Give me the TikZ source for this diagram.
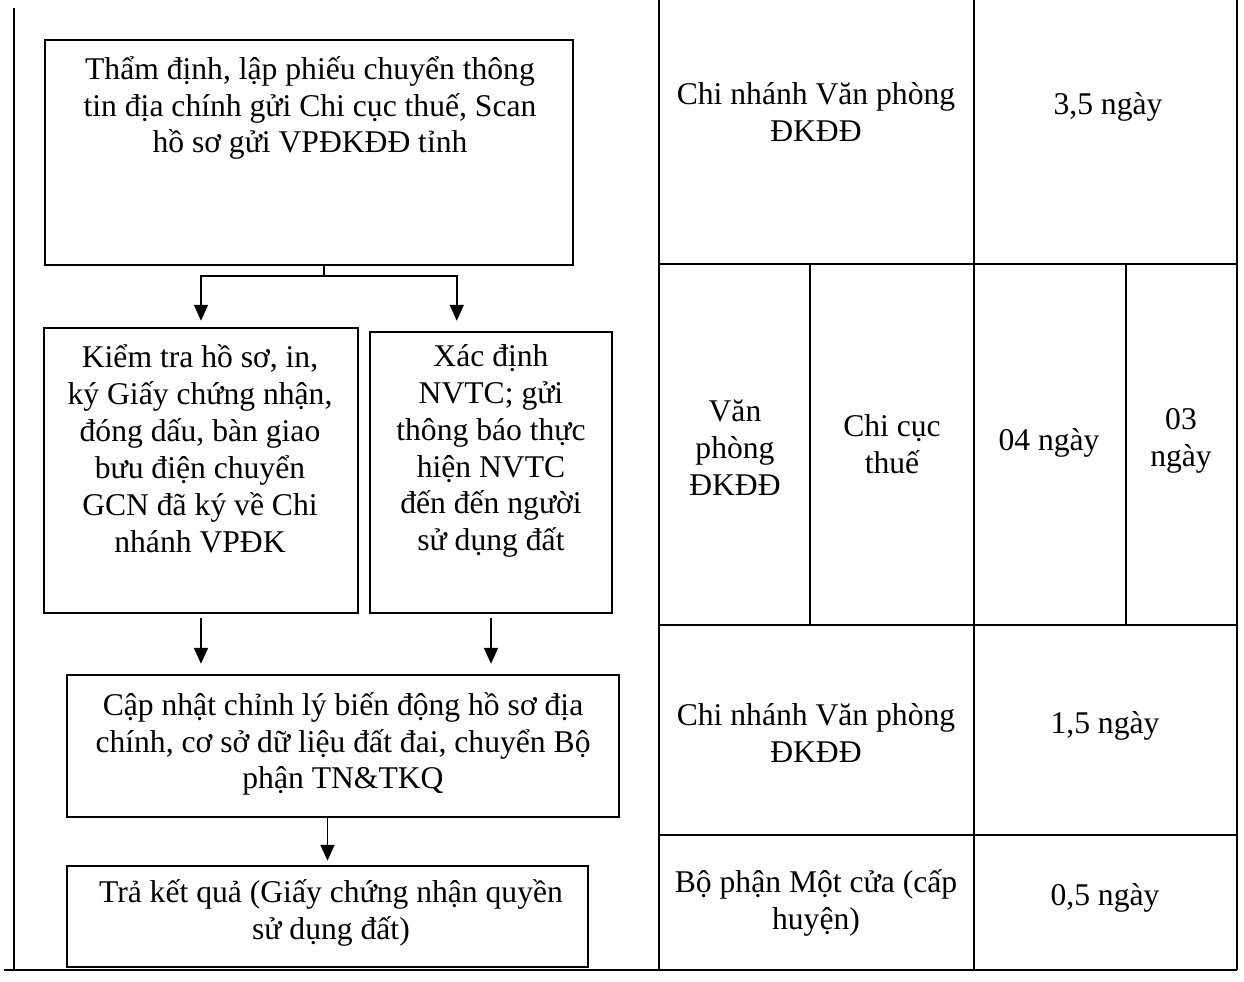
\documentclass[tikz,border=0pt]{standalone}
\usepackage{fontspec}
\setmainfont{Liberation Serif}
\usetikzlibrary{arrows.meta,positioning,fit,calc}
\tikzset{
  chart/.style={x=0.02cm, y=-0.02cm, >={Triangle[width=2.8mm,length=3.2mm]},
                every node/.style={font=\fontsize{18pt}{21pt}\selectfont}},
  stepbox/.style={draw, rectangle, line width=1.4pt, inner sep=0pt},
  txt/.style={align=center, inner sep=0pt},
  arr/.style={->, line width=1pt},
  tline/.style={line width=1pt}
}

\begin{document}
\begin{tikzpicture}[chart]
\useasboundingbox (0,0) rectangle (1244,981);
\node[stepbox, fit={(45,40) (573,265)}] (b1) {};
\node[stepbox, fit={(44,328) (358,613)}] (b2) {};
\node[stepbox, fit={(370,332) (612,613)}] (b3) {};
\node[stepbox, fit={(67,675) (619,817)}] (b4) {};
\node[stepbox, fit={(67,866) (588,967)}] (b5) {};
\node[txt] (t1) at (310,108) {Thẩm định, lập phiếu chuyển thông\\tin địa chính gửi Chi cục thuế, Scan\\hồ sơ gửi VPĐKĐĐ tỉnh};
\node[txt] (t2) at (200,449) {Kiểm tra hồ sơ, in,\\ký Giấy chứng nhận,\\đóng dấu, bàn giao\\bưu điện chuyển\\GCN đã ký về Chi\\nhánh VPĐK};
\node[txt] (t3) at (491,451) {Xác định\\NVTC; gửi\\thông báo thực\\hiện NVTC\\đến đến người\\sử dụng đất};
\node[txt] (t4) at (343,744) {Cập nhật chỉnh lý biến động hồ sơ địa\\chính, cơ sở dữ liệu đất đai, chuyển Bộ\\phận TN\&TKQ};
\node[txt] (t5) at (331,913) {Trả kết quả (Giấy chứng nhận quyền\\sử dụng đất)};
\coordinate (split) at (324,276);
\draw[line width=1pt] (b1.south -| split) -- (split);
\draw[arr, shorten >=0.12cm] (split) -| (b2.north);
\draw[arr, shorten >=0.2cm] (split) -| ($(b3.north west)!.36!(b3.north east)$);
\draw[arr, shorten <=0.08cm, shorten >=0.2cm] (b2.south) -- (b2.south |- b4.north);
\draw[arr, shorten <=0.08cm, shorten >=0.2cm] (b3.south) -- (b3.south |- b4.north);
\draw[arr, shorten >=0.08cm] (b4.south -| b5.north) -- (b5.north);
\draw[tline] (14,8) -- (14,970); \draw[tline] (4,970) -- (1237,970);
\draw[tline] (659,0) -- (659,970); \draw[tline] (974,0) -- (974,970); \draw[tline] (1237,0) -- (1237,970);
\draw[tline] (659,264) -- (1237,264); \draw[tline] (659,625) -- (1237,625); \draw[tline] (659,835) -- (1237,835);
\draw[tline] (810,264) -- (810,625); \draw[tline] (1126,264) -- (1126,625);
\node[txt] (c11) at (816,112) {Chi nhánh Văn phòng\\ĐKĐĐ};
\node[txt] (c12) at (1108,107) {3,5 ngày};
\node[txt] (c21) at (735,448) {Văn\\phòng\\ĐKĐĐ};
\node[txt] (c22) at (892,444) {Chi cục\\thuế};
\node[txt] (c23) at (1049,443) {04 ngày};
\node[txt] (c24) at (1181,441) {03\\ngày};
\node[txt] (c31) at (816,733) {Chi nhánh Văn phòng\\ĐKĐĐ};
\node[txt] (c32) at (1105,726) {1,5 ngày};
\node[txt] (c41) at (816,903) {Bộ phận Một cửa (cấp\\huyện)};
\node[txt] (c42) at (1105,898) {0,5 ngày};
\end{tikzpicture}
\end{document}
